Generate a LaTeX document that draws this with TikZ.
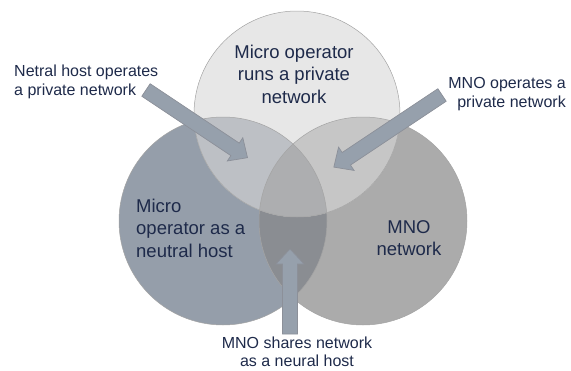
\documentclass[tikz,border=0pt]{standalone}
\usepackage{fontspec}
\setmainfont{Liberation Sans}
\definecolor{cL}{HTML}{959EAA}
\definecolor{cR}{HTML}{ABABAB}
\definecolor{cT}{HTML}{E7E7E7}
\definecolor{cTL}{HTML}{BDC0C5}
\definecolor{cTR}{HTML}{C6C6C6}
\definecolor{cLR}{HTML}{8A8D92}
\definecolor{cTLR}{HTML}{ADAEB0}
\definecolor{ringc}{HTML}{A4A4A4}
\definecolor{txt}{HTML}{1E2A4A}
\definecolor{arrfill}{HTML}{96A0AC}
\definecolor{arrdraw}{HTML}{8C9099}
\begin{document}
\begin{tikzpicture}[x=1pt,y=-1pt,
  lbl/.style={text=txt, inner sep=0pt, font=\fontsize{16}{18.5}\selectfont},
  clbl/.style={text=txt, inner sep=0pt, font=\fontsize{18.5}{22.5}\selectfont},
  fatarrow/.style={fill=arrfill, draw=arrdraw, line width=0.7pt, line join=miter},
  ring/.style={draw=ringc, line width=0.5pt}]
\useasboundingbox (0,0) rectangle (571,370);
\coordinate (cl) at (223,221);
\coordinate (cr) at (363,221);
\coordinate (ct) at (297,114);
% circles
\fill[cL] (cl) circle[radius=104pt];
\fill[cR] (cr) circle[radius=104pt];
\begin{scope}
  \clip (cl) circle[radius=104pt];
  \fill[cLR] (cr) circle[radius=104pt];
\end{scope}
\fill[cT] (ct) circle[radius=103pt];
\begin{scope}
  \clip (ct) circle[radius=103pt];
  \fill[cTL] (cl) circle[radius=104pt];
  \fill[cTR] (cr) circle[radius=104pt];
  \clip (cl) circle[radius=104pt];
  \fill[cTLR] (cr) circle[radius=104pt];
\end{scope}
\draw[ring] (cl) circle[radius=104pt];
\draw[ring] (cr) circle[radius=104pt];
\draw[ring] (ct) circle[radius=103pt];
% circle labels
\node[clbl, align=center] (tl) at (294,74) {Micro operator\\runs a private\\network};
\node[clbl, align=left, anchor=west] (ll) at (136,228) {Micro\\operator as a\\neutral host};
\node[clbl, align=center] (rl) at (409,238) {MNO\\network};
% outer labels
\node[lbl, align=left, anchor=west] (nl) at (14,82) {Netral host operates\\a private network};
\node[lbl, align=right, anchor=east] (nr) at (566,94) {MNO operates a\\private network};
\node[lbl, align=center] (nb) at (297,352) {MNO shares network\\as a neural host};
% arrows
\coordinate (a1s) at (146,90);
\coordinate (a2s) at (442,95);
\coordinate (a3s) at (290,334);
\begin{scope}[shift={(a1s)}, rotate=-33.69]
  \draw[fatarrow] (0,-7.5) -- (107,-7.5) -- (107,-14) -- (122,0) -- (107,14) -- (107,7.5) -- (0,7.5) -- cycle;
\end{scope}
\begin{scope}[shift={(a2s)}, rotate=213.69]
  \draw[fatarrow] (0,-7.5) -- (115,-7.5) -- (115,-14) -- (130,0) -- (115,14) -- (115,7.5) -- (0,7.5) -- cycle;
\end{scope}
\begin{scope}[shift={(a3s)}, rotate=90]
  \draw[fatarrow] (0,-7.5) -- (70,-7.5) -- (70,-14) -- (85,0) -- (70,14) -- (70,7.5) -- (0,7.5) -- cycle;
\end{scope}
\end{tikzpicture}
\end{document}
